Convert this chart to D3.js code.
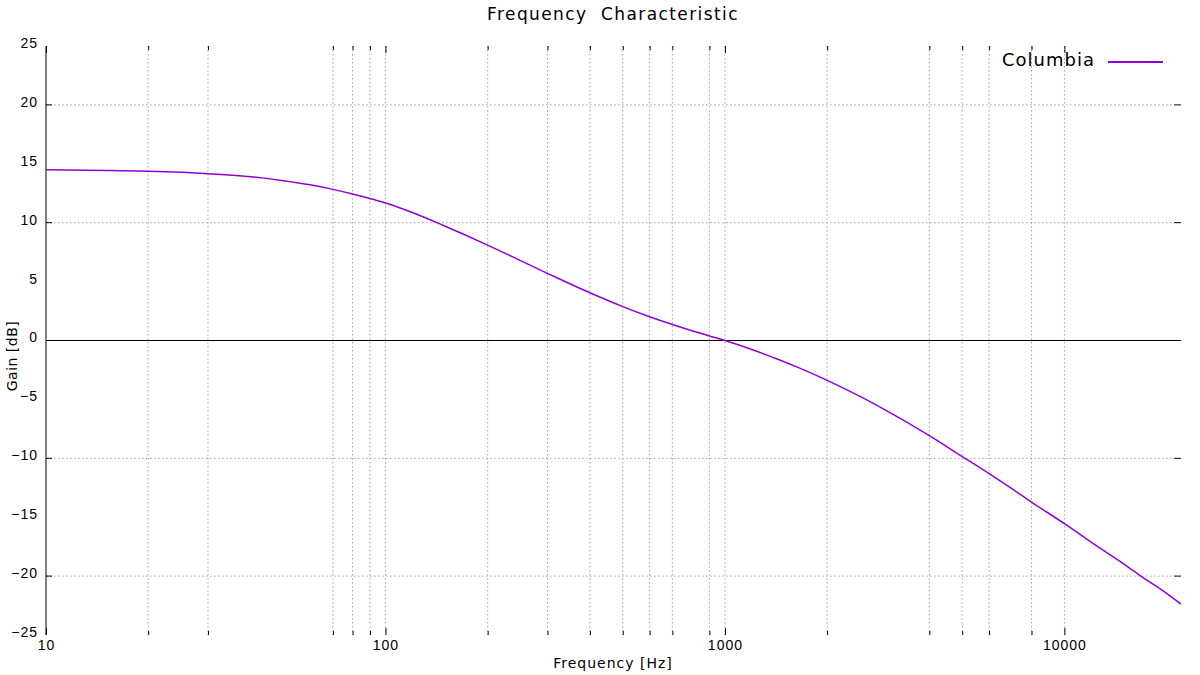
<!DOCTYPE html>
<html lang="en">
<head>
    <meta charset="UTF-8">
    <title>Frequency Characteristic</title>
    <script src="https://d3js.org/d3.v7.min.js"></script>
    <style>
        body { margin: 0; background: #fff; }
        svg { font-family: "DejaVu Sans", sans-serif; }
        .grid line { stroke: #a0a0a0; stroke-width: 1; stroke-dasharray: 1.5,2.5; }
        .axis text { font-size: 14px; fill: #000; letter-spacing: 1px; }
        .axis line { stroke: #000; }
    </style>
</head>
<body>
    <div id="chart"></div>
    <script>
        // Curve (Hz, dB)
        const freqs = [10, 15, 20, 30, 40, 50, 60, 70, 80, 90, 100, 120, 150, 200, 250, 300, 400, 500, 600, 700, 800, 900,
                       1000, 1200, 1450, 1660, 2000, 2500, 3000, 4000, 5000, 6000, 7000, 8000, 10000, 12760, 15000, 17090, 20000, 22050];
        const gains = [14.49, 14.43, 14.36, 14.16, 13.9, 13.57, 13.22, 12.83, 12.44, 12.06, 11.68, 10.87, 9.70, 8.10, 6.78, 5.70, 4.05, 2.88, 2.02, 1.36, 0.83, 0.39,
                       0.0, -0.76, -1.66, -2.35, -3.38, -4.75, -5.98, -8.08, -9.85, -11.3, -12.58, -13.72, -15.55, -17.65, -19.0, -20.15, -21.47, -22.38];

        const xMajorTicks = [10, 100, 1000, 10000];
        // minor x ticks / grid lines as drawn in the reference (some are absent there)
        const xMinorTicks = [20, 30, 70, 80, 90, 200, 300, 400, 500, 600, 700, 900, 2000, 4000, 5000, 6000, 8000];
        const yLabelTicks = [25, 20, 15, 10, 5, 0, -5, -10, -15, -20, -25];
        const yGridTicks = [20, 10, -10, -20];
        const seriesName = "Columbia";

        const width = 1200, height = 675;
        const margin = {top: 46, right: 19, bottom: 40, left: 46};

        const svg = d3.select("#chart")
            .append("svg")
            .attr("width", width)
            .attr("height", height);

        const x = d3.scaleLog()
            .domain([10, 22050])
            .range([margin.left, width - margin.right]);

        const y = d3.scaleLinear()
            .domain([-25, 25])
            .range([height - margin.bottom, margin.top]);

        const allX = xMajorTicks.concat(xMinorTicks);

        // Grid
        const grid = svg.append("g").attr("class", "grid");
        grid.selectAll("line.gx")
            .data(allX.filter(d => d !== 10))
            .enter()
            .append("line")
            .attr("x1", d => x(d)).attr("x2", d => x(d))
            .attr("y1", y(25)).attr("y2", y(-25));
        grid.selectAll("line.gy")
            .data(yGridTicks)
            .enter()
            .append("line")
            .attr("x1", x(10)).attr("x2", x(22050) - 7)
            .attr("y1", d => y(d)).attr("y2", d => y(d));

        // Zero line
        svg.append("line")
            .attr("x1", x(10)).attr("x2", x(22050))
            .attr("y1", y(0)).attr("y2", y(0))
            .attr("stroke", "#000").attr("stroke-width", 1);

        // Bottom axis
        const fmt = d => xMajorTicks.includes(d) ? String(d) : "";
        const bottomAxis = svg.append("g")
            .attr("class", "axis")
            .attr("transform", `translate(0,${y(-25)})`)
            .call(d3.axisBottom(x).tickValues(allX).tickFormat(fmt).tickSize(-4).tickPadding(8));
        bottomAxis.select(".domain").remove();
        bottomAxis.selectAll(".tick line").attr("y2", d => xMajorTicks.includes(d) ? -7 : -4);
        bottomAxis.selectAll(".tick text").attr("y", 5);

        // Top ticks
        const topAxis = svg.append("g")
            .attr("class", "axis")
            .attr("transform", `translate(0,${y(25)})`)
            .call(d3.axisTop(x).tickValues(allX).tickFormat("").tickSize(-4));
        topAxis.select(".domain").remove();
        topAxis.selectAll(".tick line").attr("y2", d => xMajorTicks.includes(d) ? 7 : 4);

        // Left axis labels
        const leftAxis = svg.append("g")
            .attr("class", "axis")
            .attr("transform", `translate(${x(10)},0)`)
            .call(d3.axisLeft(y).tickValues(yLabelTicks).tickSize(0).tickPadding(8));
        leftAxis.select(".domain").remove();
        leftAxis.selectAll(".tick text").attr("dy", "0.1em");

        svg.append("line")
            .attr("x1", x(10)).attr("x2", x(10))
            .attr("y1", y(25)).attr("y2", y(-25))
            .attr("stroke", "#000");

        // y ticks on both sides
        const yt = svg.append("g").attr("class", "axis");
        yt.selectAll("line.l")
            .data(yGridTicks)
            .enter().append("line")
            .attr("x1", x(10)).attr("x2", x(10) + 6)
            .attr("y1", d => y(d)).attr("y2", d => y(d));
        yt.selectAll("line.r")
            .data(yGridTicks)
            .enter().append("line")
            .attr("x1", x(22050) - 7).attr("x2", x(22050))
            .attr("y1", d => y(d)).attr("y2", d => y(d));

        // Curve
        const line = d3.line()
            .x((d, i) => x(freqs[i]))
            .y(d => y(d))
            .curve(d3.curveMonotoneX);

        svg.append("path")
            .datum(gains)
            .attr("fill", "none")
            .attr("stroke", "#9400d3")
            .attr("stroke-width", 1.5)
            .attr("d", line);

        // Legend
        svg.append("text")
            .attr("x", 1095).attr("y", 66)
            .attr("text-anchor", "end")
            .attr("font-size", 18)
            .attr("letter-spacing", 1)
            .text(seriesName);
        svg.append("line")
            .attr("x1", 1108).attr("x2", 1163)
            .attr("y1", 62).attr("y2", 62)
            .attr("stroke", "#9400d3").attr("stroke-width", 2);

        // Titles
        svg.append("text")
            .attr("x", 613).attr("y", 20)
            .attr("text-anchor", "middle")
            .attr("font-size", 17)
            .attr("letter-spacing", 1.4)
            .style("white-space", "pre")
            .text("Frequency  Characteristic");

        svg.append("text")
            .attr("x", 613).attr("y", 668)
            .attr("text-anchor", "middle")
            .attr("font-size", 14)
            .attr("letter-spacing", 1)
            .text("Frequency [Hz]");

        svg.append("text")
            .attr("transform", "translate(17,356) rotate(-90)")
            .attr("text-anchor", "middle")
            .attr("font-size", 14)
            .attr("letter-spacing", 0.5)
            .text("Gain [dB]");
    </script>
</body>
</html>
